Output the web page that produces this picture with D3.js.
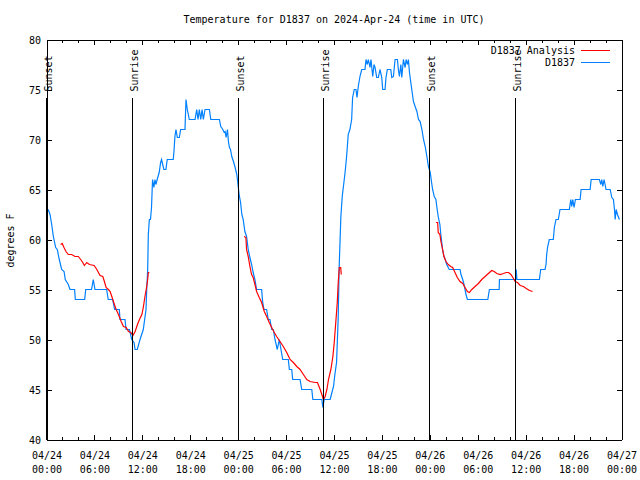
<!DOCTYPE html>
<html><head><meta charset="utf-8">
<script src="https://cdn.jsdelivr.net/npm/d3@7"></script>
<style>
body{margin:0;background:#fff}
svg{display:block}
text{font-family:"DejaVu Sans Mono",monospace;font-size:10px;fill:#000}
</style>
</head><body><svg id="c" width="640" height="480"></svg>
<script>
const titleText = "Temperature for D1837 on 2024-Apr-24 (time in UTC)";
const yLabel = "degrees F";
const seriesNames = ["D1837 Analysis", "D1837"];
// hours since 2024-04-24 00:00 UTC
const obsHours = [0.22,0.44,0.65,0.86,1.15,1.35,1.6,1.9,2.2,2.35,2.73,2.94,3.52,3.61,4.78,4.91,5.64,5.86,6.07,7.53,7.73,8.28,8.53,9.12,9.2,9.83,9.96,10.38,10.67,10.96,11.09,11.37,11.71,12.12,12.46,12.55,12.67,12.75,12.88,13.02,13.15,13.28,13.45,13.58,13.7,13.86,14.11,14.29,14.41,14.55,14.7,14.95,15.12,15.87,15.96,16.08,16.21,16.38,16.63,16.8,17.34,17.47,17.63,17.76,17.88,18.6,18.81,18.97,19.14,19.31,19.48,19.64,19.85,20.4,20.57,21.65,21.82,22.08,22.25,22.37,22.49,22.66,22.78,22.91,23.04,23.2,23.41,23.62,23.83,23.94,24.02,24.12,24.3,24.46,24.63,24.84,25.05,25.26,25.47,25.68,25.88,26.1,26.31,26.94,27.06,27.23,27.56,27.77,27.98,28.2,28.4,28.61,28.9,29.15,29.36,29.58,30.28,30.41,30.71,30.83,31.75,31.96,33.22,33.35,34.48,34.6,34.77,35.52,35.74,35.94,36.11,36.32,36.52,36.65,36.86,37.03,37.24,37.4,37.58,37.78,37.99,38.21,38.33,38.54,38.75,38.88,39.04,39.25,39.47,39.88,40.01,40.17,40.3,40.51,40.63,40.85,41.01,41.14,41.35,41.55,41.76,41.98,42.1,42.39,42.51,42.68,43.11,43.23,43.44,43.65,43.94,44.06,44.19,44.37,44.49,44.69,44.91,45.03,45.2,45.32,45.45,45.62,45.79,45.95,46.16,46.38,46.58,46.79,47.01,47.21,47.42,47.63,47.83,48.05,48.22,48.35,48.55,48.76,48.92,49.05,49.26,49.35,49.48,49.6,49.77,49.93,50.11,50.43,51.78,51.9,52.12,52.28,52.53,52.7,55.26,55.46,56.68,56.72,58.73,58.82,58.9,61.72,61.88,62.42,62.55,62.63,62.76,62.96,63.46,63.59,63.8,64.09,64.3,65.47,65.65,65.77,65.9,66.06,66.23,66.82,66.94,68.07,68.2,69.23,69.41,69.53,69.66,69.82,70.07,70.58,70.79,70.99,71.12,71.21,71.33,71.49,71.74];
const obsTemps = [63,62.5,61.5,60.3,59.2,59,58,57,56.8,56,55.5,55,55,54,54,55,55,56,55,55,54,54,53,53,52,52,51,51,50,49.7,49,49,50,51,53,55,57,60.5,62,62,63.2,66,65.2,66,65.5,66,66.7,67.7,68,67.5,67,67,68,68,68.8,70.3,71,70.2,70.2,71,71,74,73,72.5,72,72,73,72,73,72,73,72,73,73,72,72,71.3,71,70.7,70.8,70.2,71,69.8,69.2,69,68.3,67.8,67.2,66.5,65.8,65.2,64.5,63.7,62.5,62,60.8,60.3,59,58.2,57.5,56.7,56,55,55,53.8,53,53,52,52,51,51,50,49,50,49,48,48,47,47,46,46,45,45,44,44,43.2,44,44,44.7,45.3,46.5,47.7,52,57.3,62.3,64.3,65.7,66.8,68.3,70.5,71,72,74.2,75,75,74.2,75.3,76.3,77,77,78,77.5,78,77.2,78,76.3,77.5,77.2,76.2,76.2,77,76.2,75,75,76.2,77,77,76.2,76.3,78,78,77,76.3,77.5,76.2,78,77.2,78,77.5,78,76.7,75.7,74.7,73.8,73.3,72.8,72,71.8,71,70,69.3,68.3,67.3,66.7,65.7,65,64.3,64,63,62.3,61.5,60.7,59.8,59,58.3,58,57.5,57,57,56.5,56,55.5,54.5,54,54,55,55,56,56,57,56,56,57,57,57.5,58.5,59.3,60,60,61.2,62,62,63,63,64,63.3,64,63.2,64,64,65,65,66,66,65.5,66,65.3,66,65,65,64.2,64,63,62,63,62.5,62];
// analysis series; null marks a gap between runs
const anaHours = [1.77,1.97,2.19,2.44,2.73,3.15,3.57,3.98,4.28,4.54,4.74,5.04,5.37,5.96,6.3,6.5,6.71,7.05,7.25,7.46,7.75,7.97,8.18,8.38,8.72,9.01,9.35,9.64,9.98,10.27,10.57,10.82,11.1,11.39,11.64,11.94,12.12,12.33,12.55,12.67,12.75,12.88,null,
 24.75,24.97,25.05,25.26,25.47,25.68,25.88,26.1,26.31,26.64,26.94,27.27,27.57,27.89,28.2,28.52,28.82,29.24,29.65,30.08,30.5,30.91,31.34,31.75,32.17,32.59,33.01,33.64,33.93,34.27,34.48,34.68,34.89,35.11,35.31,35.61,35.86,36.03,36.25,36.41,36.53,36.66,36.84,36.91,null,
 48.76,48.98,49.05,49.26,49.39,49.55,49.77,50.02,50.31,50.61,50.86,51.15,51.44,51.78,52.12,52.41,52.7,52.95,53.25,53.66,54.08,54.5,54.92,55.33,55.76,56.05,56.39,56.8,57.22,57.56,57.85,58.15,58.4,58.69,58.98,59.32,59.73,60.07,60.48,60.86];
const anaTemps = [59.5,59.6,59.2,58.8,58.5,58.5,58.3,58.3,58,57.7,57.4,57.7,57.5,57.4,57,56.7,56.4,56.3,55.8,55.2,55,54.8,54.3,53.8,53,52.5,51.8,51.3,51.2,50.8,50.7,50.4,50.8,51.5,52,52.5,53.2,54.3,55.3,56,56.7,56.7,null,
 60.3,60.2,59,58.3,57.3,56.5,56.2,55.5,54.8,54.2,53.7,52.8,52.3,51.7,51.2,50.7,50.3,49.8,49.3,48.7,48,47.7,47.3,47,46.5,46,45.8,45.7,45.7,45,44.5,44,44.3,45,46,47,48.3,49.7,52,53.7,55.7,57.2,57.2,56.5,null,
 61.7,61.7,60.7,60.5,59.8,59.2,58.3,57.8,57.5,57.3,57.2,56.7,56.2,55.8,55.6,55.2,54.8,54.7,55,55.3,55.6,56,56.3,56.6,56.9,56.8,56.6,56.5,56.6,56.7,56.7,56.5,56.2,55.8,55.7,55.4,55.3,55.1,54.9,54.8];
const sunriseHours = [10.73, 34.68, 58.7];
const sunsetHours = [0, 24.02, 48.02];
const yTicks = [40,45,50,55,60,65,70,75,80];

const H = 3600e3, t0 = Date.UTC(2024,3,24);
const toDate = h => new Date(t0 + h*H);
const svg = d3.select("#c");
const L=46.5, R=621.5, T=39.5, B=439.5;
const x = d3.scaleUtc().domain([toDate(0), toDate(72)]).range([L,R]);
const y = d3.scaleLinear().domain([40,80]).range([B,T]);

svg.append("text").attr("x",(L+R)/2).attr("y",22.5).attr("text-anchor","middle").text(titleText);
svg.append("text").attr("transform","translate(14,240.5) rotate(-90)").attr("text-anchor","middle").text(yLabel);

const obs = obsHours.map((h,i)=>({t:toDate(h),v:obsTemps[i]}));
const ana = anaHours.map((h,i)=>({t:h==null?null:toDate(h),v:anaTemps[i]}));
const line = d3.line().defined(d=>d.t!=null&&d.v!=null).x(d=>x(d.t)).y(d=>y(d.v));

svg.append("path").datum(obs).attr("d",line).attr("fill","none").attr("stroke","#0080ff").attr("stroke-width",1.2);
svg.append("path").datum(ana).attr("d",line).attr("fill","none").attr("stroke","#ff0000").attr("stroke-width",1.2);

// sunrise / sunset markers
const marks = sunsetHours.map(h=>({h,l:"Sunset"})).concat(sunriseHours.map(h=>({h,l:"Sunrise"})));
marks.forEach(m=>{
  const px = Math.round(x(toDate(m.h))-0.5)+0.5;
  svg.append("line").attr("x1",px).attr("x2",px).attr("y1",98).attr("y2",B).attr("stroke","#000").attr("shape-rendering","crispEdges");
  svg.append("text").attr("transform",`translate(${px+5},91.5) rotate(-90)`).attr("text-anchor","start").text(m.l);
});

// axes
function style(g){
  g.attr("font-family",null).attr("font-size",null);
  g.selectAll("line,path").attr("stroke","#000").attr("shape-rendering","crispEdges");
}
const major = d3.utcHour.every(6), minor = d3.utcHour.every(2);
const gxm = svg.append("g").attr("transform",`translate(0,${B})`).call(d3.axisBottom(x).ticks(minor).tickSize(-3).tickFormat("")).call(style);
gxm.select(".domain").remove();
const gxmt = svg.append("g").attr("transform",`translate(0,${T})`).call(d3.axisTop(x).ticks(minor).tickSize(-3).tickFormat("")).call(style);
gxmt.select(".domain").remove();
const fD = d3.utcFormat("%m/%d"), fT = d3.utcFormat("%H:%M");
const gx = svg.append("g").attr("transform",`translate(0,${B})`).call(d3.axisBottom(x).ticks(major).tickSize(-5).tickSizeOuter(0)).call(style);
gx.selectAll(".tick text").each(function(d){
  const t=d3.select(this); t.text(null).attr("y",null).attr("dy",null);
  t.append("tspan").attr("x",0).attr("y",19.5).text(fD(d));
  t.append("tspan").attr("x",0).attr("y",33).text(fT(d));
});
svg.append("g").attr("transform",`translate(0,${T})`).call(d3.axisTop(x).ticks(major).tickSize(-5).tickSizeOuter(0).tickFormat("")).call(style);
svg.append("g").attr("transform",`translate(${L},0)`).call(d3.axisLeft(y).tickValues(yTicks).tickSize(-5).tickSizeOuter(0).tickPadding(5.5)).call(style)
  .selectAll(".tick text").attr("dy","0.35em");
svg.append("g").attr("transform",`translate(${R},0)`).call(d3.axisRight(y).tickValues(yTicks).tickSize(-5).tickSizeOuter(0).tickFormat("")).call(style);

// legend
const legColors = ["#ff0000","#0080ff"];
seriesNames.forEach((n,i)=>{
  const yy = 50.5 + i*12;
  svg.append("text").attr("x",575).attr("y",yy+3.5).attr("text-anchor","end").text(n);
  svg.append("line").attr("x1",581).attr("x2",610).attr("y1",yy).attr("y2",yy).attr("stroke",legColors[i]).attr("shape-rendering","crispEdges");
});
</script>
</body></html>
